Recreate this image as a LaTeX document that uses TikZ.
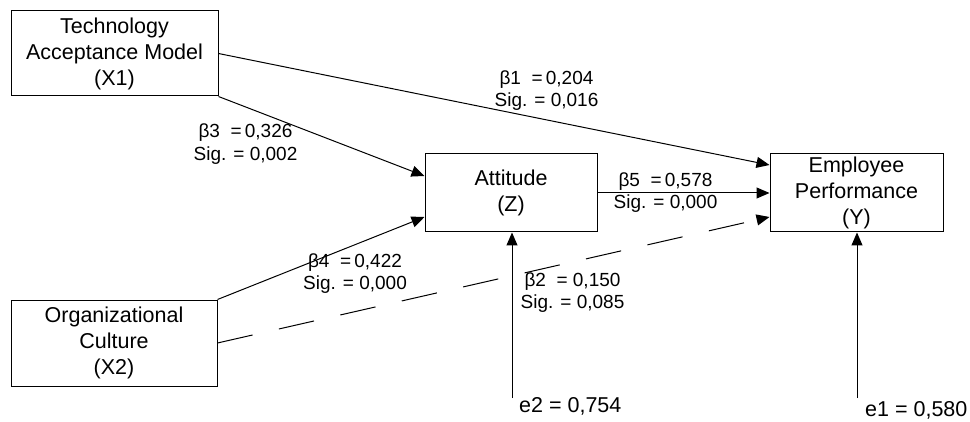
\documentclass[tikz,border=0pt]{standalone}
\usepackage{fontspec}
\setmainfont{Liberation Sans}
\usetikzlibrary{arrows.meta,calc}
\begin{document}
\begin{tikzpicture}[x=1pt,y=1pt,
  var/.style={draw=black, line width=1pt, inner sep=0pt, align=center,
    font=\fontsize{21.5}{26}\selectfont},
  coef/.style={inner sep=0pt, align=center, font=\fontsize{19}{22.5}\selectfont},
  errlbl/.style={inner sep=0pt, anchor=base west, font=\fontsize{21.5}{26}\selectfont},
  link/.style={line width=1pt, -{Triangle[length=13pt,width=11pt]}},
  weaklink/.style={link, dash pattern=on 36pt off 27pt}
]
\useasboundingbox (0,0) rectangle (970,421);

% latent variables
\node[var, minimum width=207pt, minimum height=85pt] (x1) at (114.5,367.5)
  {Technology\\Acceptance Model\\(X1)};
\node[var, minimum width=206pt, minimum height=86pt] (x2) at (114,78)
  {Organizational\\Culture\\(X2)};
\node[var, minimum width=172pt, minimum height=78pt] (att) at (511,228)
  {Attitude\\(Z)};
\node[var, minimum width=173pt, minimum height=78pt] (perf) at (856.5,228)
  {Employee\\Performance\\(Y)};

% structural paths
\draw[link] (x1.east) -- ([yshift=28pt]perf.west);
\draw[link] (x1.south east) -- ([yshift=17pt]att.west);
\draw[link] (x2.north east) -- ([yshift=-24pt]att.west);
\draw[weaklink] (x2.east) -- ([yshift=-24pt]perf.west);
\draw[link] (att.east) -- (perf.west);

% error terms
\coordinate (e2end) at (512,23);
\coordinate (e1end) at (857,23);
\draw[link] (e2end) -- (e2end |- att.south);
\draw[link] (e1end) -- (e1end |- perf.south);
\node[errlbl] (e2) at (519,9) {e2 = 0,754};
\node[errlbl] (e1) at (865,5) {e1 = 0,580};

% path coefficients
\node[coef] (b1) at (546.5,330.5) {β1\ \ =\,0,204\\Sig. = 0,016};
\node[coef] (b3) at (245.5,277) {β3\ \ =\,0,326\\Sig. = 0,002};
\node[coef] (b5) at (665.5,228.5) {β5\ \ =\,0,578\\Sig. = 0,000};
\node[coef] (b4) at (355,147.5) {β4\ \ =\,0,422\\Sig. = 0,000};
\node[coef] (b2) at (572.5,128.5) {β2\ \ = 0,150\\Sig. = 0,085};
\end{tikzpicture}
\end{document}
